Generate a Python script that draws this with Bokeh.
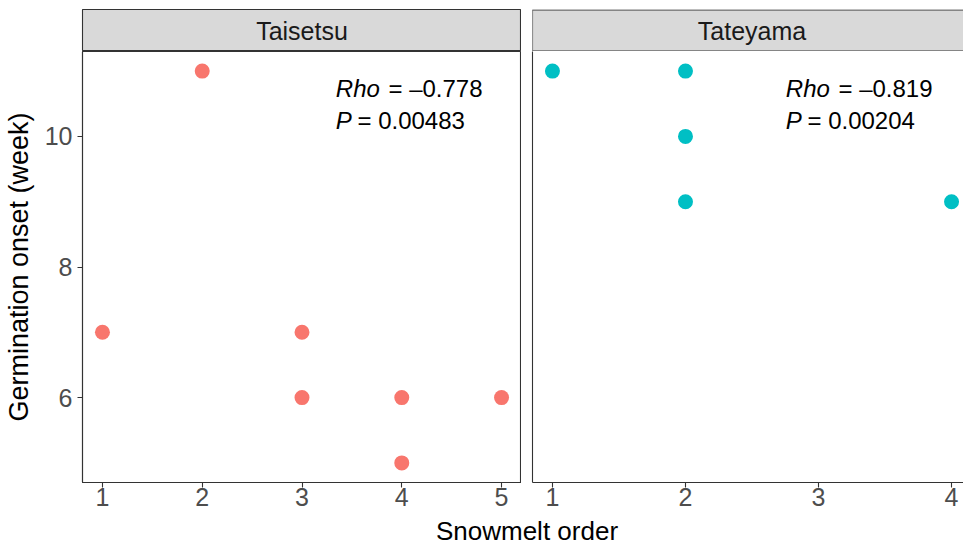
from bokeh.plotting import figure
from bokeh.layouts import column, row
from bokeh.models import Range1d, FixedTicker, Span
from bokeh.core.properties import value
from bokeh.embed import file_html
from bokeh.resources import INLINE

FONT = "Liberation Sans"
EDGE = "#333333"
STRIP_FILL = "#D9D9D9"
TICK_TEXT = "#4D4D4D"
NBSP = "\u00a0"

# ---- data -------------------------------------------------------------
sites = ["Taisetsu", "Tateyama"]
site_colors = ["#F8766D", "#00BFC4"]

taisetsu_order = [1, 2, 3, 3, 4, 4, 5]
taisetsu_onset = [7, 11, 7, 6, 6, 5, 6]

tateyama_order = [1, 2, 2, 2, 4]
tateyama_onset = [11, 11, 10, 9, 9]

rho_text = ["–0.778", "–0.819"]
p_text = ["0.00483", "0.00204"]

x_ticks = [[1, 2, 3, 4, 5], [1, 2, 3, 4]]
y_ticks = [6, 8, 10]

y_title = "Germination onset (week)"
x_title = "Snowmelt order"

# ---- layout -----------------------------------------------------------
STRIP_H = 51          # strip figure height (9 px top margin + 42 px strip)
PANEL_BOTTOM = 33
PANEL_H = 431 + PANEL_BOTTOM
TITLE_H = 545 - STRIP_H - PANEL_H

Y_RANGE = (4.7, 11.3)
# x limits of each facet (5 % expansion); the second facet runs past the page edge
x_limits = [(0.8, 5.2), (0.85, 4.15)]
visible_frac = [1.0, 431 / 439]
fig_widths = [521, 442]
left_borders = [82, 11]


def x_range_for(i):
    lo, hi = x_limits[i]
    return Range1d(lo, lo + (hi - lo) * visible_frac[i])


def strip(i):
    # strip height is 42 px; the second strip keeps half a pixel of slack so
    # its hand-drawn border lines sit fully inside the frame
    y_rng = Range1d(0, 42) if i == 0 else Range1d(-0.5, 42.5)
    s = figure(width=fig_widths[i], height=STRIP_H, x_range=x_range_for(i),
               y_range=y_rng, output_backend="svg", toolbar_location=None,
               min_border_left=left_borders[i], min_border_right=0,
               min_border_top=9, min_border_bottom=0,
               x_axis_location=None, y_axis_location=None,
               background_fill_color=STRIP_FILL, border_fill_color="white")
    s.grid.visible = False
    lo, hi = x_limits[i]
    if i == 0:
        s.outline_line_color = EDGE
        s.outline_line_width = 1.1
    else:
        # the second strip continues past the page edge: no right-hand border
        s.outline_line_color = None
        s.segment(x0=[lo, lo], y0=[0, 42], x1=[hi, hi], y1=[0, 42],
                  line_color=EDGE, line_width=1.1)
        s.add_layout(Span(location=lo, dimension="height", line_color=EDGE,
                          line_width=1.1))
    s.text(x=[(lo + hi) / 2], y=[21], text=[sites[i]], text_font=value(FONT),
           text_font_size="25px", text_color="#1A1A1A", text_align="center",
           text_baseline="middle")
    return s


def panel(i, order, onset):
    p = figure(width=fig_widths[i], height=PANEL_H, x_range=x_range_for(i),
               y_range=Range1d(*Y_RANGE), output_backend="svg", toolbar_location=None,
               min_border_left=left_borders[i], min_border_right=0,
               min_border_top=0, min_border_bottom=PANEL_BOTTOM,
               background_fill_color="white", border_fill_color="white")
    p.grid.visible = False

    xa = p.xaxis[0]
    xa.ticker = FixedTicker(ticks=x_ticks[i])
    xa.minor_tick_line_color = None
    xa.major_tick_in = 0
    xa.major_tick_out = 5
    xa.major_tick_line_color = EDGE
    xa.major_tick_line_width = 1.1
    xa.axis_line_color = EDGE
    xa.axis_line_width = 1.1
    xa.major_label_text_font = FONT
    xa.major_label_text_font_size = "25px"
    xa.major_label_text_color = TICK_TEXT
    xa.major_label_standoff = 0

    ya = p.yaxis[0]
    ya.axis_line_color = EDGE
    ya.axis_line_width = 1.1
    ya.minor_tick_line_color = None
    if i == 0:
        ya.ticker = FixedTicker(ticks=y_ticks)
        ya.major_tick_in = 0
        ya.major_tick_out = 5
        ya.major_tick_line_color = EDGE
        ya.major_tick_line_width = 1.1
        ya.major_label_text_font = FONT
        ya.major_label_text_font_size = "25px"
        ya.major_label_text_color = TICK_TEXT
        ya.major_label_standoff = 5
        ya.axis_label = y_title
        ya.axis_label_text_font = FONT
        ya.axis_label_text_font_size = "27px"
        ya.axis_label_text_font_style = "normal"
        ya.axis_label_text_color = "black"
        ya.axis_label_standoff = 8
        p.outline_line_color = EDGE
        p.outline_line_width = 1.1
    else:
        ya.ticker = FixedTicker(ticks=[])
        ya.major_tick_in = 0
        ya.major_tick_out = 0
        ya.major_label_text_font_size = "0px"
        ya.major_label_standoff = 0
        p.outline_line_color = None

    p.scatter(order, onset, size=15, color=site_colors[i], line_color=None)

    # correlation annotation (placed at ~58 % of the facet width)
    lo, hi = x_limits[i]
    lx = lo + 0.577 * (hi - lo)
    common = dict(text_font=value(FONT), text_font_size="24px", text_color="black",
                  text_align="left", text_baseline="middle")
    p.text(x=[lx], y=[10.726], text=["Rho"], text_font_style="italic", **common)
    p.text(x=[lx], y=[10.726], text=[NBSP + "=" + NBSP + rho_text[i]], x_offset=46, **common)
    p.text(x=[lx], y=[10.245], text=["P"], text_font_style="italic", **common)
    p.text(x=[lx], y=[10.245], text=[NBSP + "=" + NBSP + p_text[i]], x_offset=15, **common)
    return p


def title_strip():
    t = figure(width=963, height=TITLE_H, x_range=Range1d(0, 963),
               y_range=Range1d(0, TITLE_H), output_backend="svg",
               toolbar_location=None, min_border=0,
               x_axis_location=None, y_axis_location=None,
               background_fill_color="white", border_fill_color="white",
               outline_line_color=None)
    t.grid.visible = False
    t.text(x=[526.5], y=[TITLE_H / 2], text=[x_title], text_font=value(FONT),
           text_font_size="26px", text_color="black", text_align="center",
           text_baseline="middle")
    return t


left = column(strip(0), panel(0, taisetsu_order, taisetsu_onset), spacing=0)
right = column(strip(1), panel(1, tateyama_order, tateyama_onset), spacing=0)
layout = column(row(left, right, spacing=0), title_strip(), spacing=0)

open("out.html", "w").write(file_html(layout, INLINE))
